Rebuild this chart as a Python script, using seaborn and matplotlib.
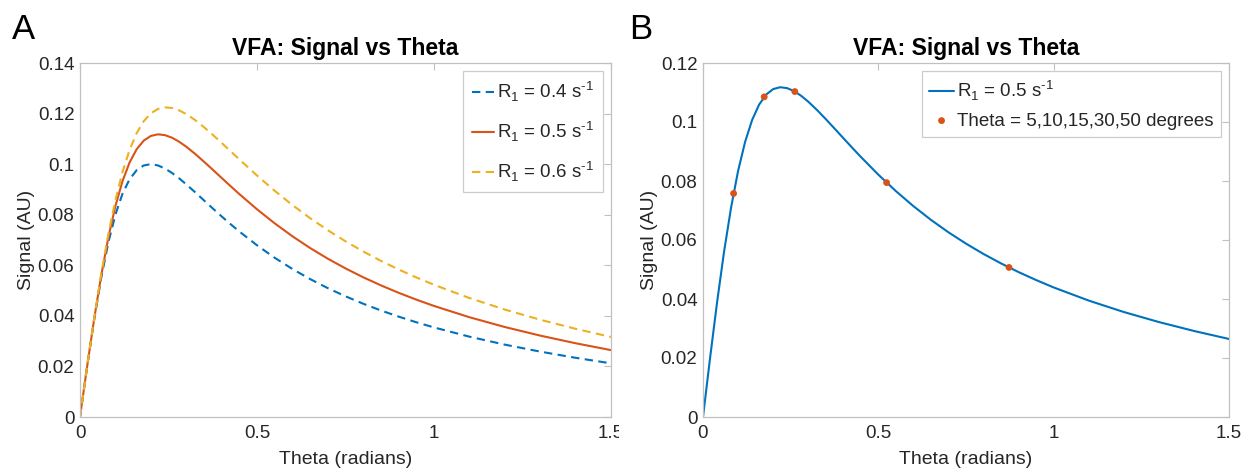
import numpy as np
import pandas as pd
import matplotlib
matplotlib.use("Agg")
import matplotlib.pyplot as plt
from matplotlib.transforms import Bbox
import seaborn as sns

sns.set_theme(style="white")
plt.rcParams['font.family'] = ['Liberation Sans', 'DejaVu Sans']
plt.rcParams['mathtext.fontset'] = 'custom'
plt.rcParams['mathtext.rm'] = 'Liberation Sans'

# ---- data ----
theta = [0.00, 0.02, 0.04, 0.06, 0.08, 0.10, 0.12, 0.14, 0.16, 0.18, 0.20,
         0.22, 0.24, 0.26, 0.28, 0.30, 0.325, 0.35, 0.375, 0.40, 0.425, 0.45,
         0.50, 0.55, 0.60, 0.65, 0.70, 0.75, 0.80, 0.85, 0.90, 0.95,
         1.00, 1.10, 1.20, 1.30, 1.40, 1.50]
signal_r04 = [0.0, 0.01980, 0.03847, 0.05506, 0.06899, 0.08004, 0.08828, 0.09401,
              0.09761, 0.09947, 0.10000, 0.09950, 0.09827, 0.09651, 0.09439,
              0.09203, 0.08891, 0.08570, 0.08249, 0.07935, 0.07630, 0.07337,
              0.06791, 0.06297, 0.05854, 0.05455, 0.05096, 0.04773, 0.04480,
              0.04213, 0.03970, 0.03747,
              0.03542, 0.03177, 0.02862, 0.02586, 0.02341, 0.02122]
signal_r05 = [0.0, 0.01984, 0.03876, 0.05599, 0.07095, 0.08338, 0.09323, 0.10065,
              0.10589, 0.10929, 0.11115, 0.11179, 0.11148, 0.11045, 0.10887,
              0.10691, 0.10408, 0.10100, 0.09780, 0.09456, 0.09134, 0.08818,
              0.08215, 0.07658, 0.07148, 0.06683, 0.06261, 0.05877, 0.05526,
              0.05206, 0.04912, 0.04642,
              0.04392, 0.03946, 0.03559, 0.03219, 0.02917, 0.02645]
signal_r06 = [0.0, 0.01987, 0.03897, 0.05662, 0.07232, 0.08577, 0.09685, 0.10561,
              0.11224, 0.11698, 0.12008, 0.12182, 0.12246, 0.12221, 0.12127,
              0.11981, 0.11744, 0.11465, 0.11161, 0.10841, 0.10515, 0.10189,
              0.09551, 0.08946, 0.08383, 0.07864, 0.07387, 0.06948, 0.06546,
              0.06176, 0.05835, 0.05520,
              0.05228, 0.04705, 0.04249, 0.03846, 0.03488, 0.03165]
sample_deg = [5, 10, 15, 30, 50]
sample_signal = [0.07577, 0.10852, 0.11032, 0.07946, 0.05070]

HY = '\u2010'
labels_a = [r'R$_{\mathregular{1}}$ = 0.4 s$^{\mathregular{' + HY + r'1}}$',
            r'R$_{\mathregular{1}}$ = 0.5 s$^{\mathregular{' + HY + r'1}}$',
            r'R$_{\mathregular{1}}$ = 0.6 s$^{\mathregular{' + HY + r'1}}$']
label_pts = 'Theta = 5,10,15,30,50 degrees'

blue = '#0072BD'
red = '#D95319'
yellow = '#EDB120'
spine_col = '#c0c0c0'
text_col = '#262626'

W, H = 1249, 472
fig = plt.figure(figsize=(W / 100, H / 100), dpi=100)
axA = fig.add_axes([80 / W, 1 - 417 / H, (611 - 80) / W, (417 - 63) / H])
axB = fig.add_axes([703 / W, 1 - 417 / H, (1229 - 703) / W, (417 - 63) / H])

lw = 1.5
dash = (4, 2.6)
sns.lineplot(x=theta, y=signal_r04, ax=axA, color=blue, lw=lw, label=labels_a[0],
             linestyle=(0, dash))
sns.lineplot(x=theta, y=signal_r05, ax=axA, color=red, lw=lw, label=labels_a[1])
sns.lineplot(x=theta, y=signal_r06, ax=axA, color=yellow, lw=lw, label=labels_a[2],
             linestyle=(0, dash))

sns.lineplot(x=theta, y=signal_r05, ax=axB, color=blue, lw=lw, label=labels_a[1])
sns.scatterplot(x=np.deg2rad(sample_deg), y=sample_signal, ax=axB, color=red, s=24,
                edgecolor='none', label=label_pts, zorder=3)

for ax, ymax, yt in [(axA, 0.14, np.arange(0, 0.141, 0.02)),
                     (axB, 0.12, np.arange(0, 0.121, 0.02))]:
    ax.set_xlim(0, 1.5)
    ax.set_ylim(0, ymax)
    ax.set_xticks([0, 0.5, 1, 1.5])
    ax.set_xticklabels(['0', '0.5', '1', '1.5'])
    ax.set_yticks(yt)
    ax.set_yticklabels(['0' if v == 0 else ('%g' % round(v, 2)) for v in yt])
    ax.tick_params(direction='in', length=5, width=0.8, color=spine_col,
                   top=True, right=True, labelsize=13.5, labelcolor=text_col)
    ax.tick_params(axis='x', pad=6)
    ax.tick_params(axis='y', pad=4)
    for s in ax.spines.values():
        s.set_color(spine_col)
        s.set_linewidth(0.9)
    ax.set_xlabel('Theta (radians)', fontsize=14, color=text_col, labelpad=6)
    ax.set_ylabel('Signal (AU)', fontsize=14, color=text_col, labelpad=2)
    ax.set_title('VFA: Signal vs Theta', fontsize=16.5, fontweight='bold',
                 color='black', pad=6)

legA = axA.legend(loc='upper right', fontsize=13.5, frameon=True, fancybox=False,
                  handlelength=1.2, handletextpad=0.15, borderpad=0.45,
                  labelspacing=0.85, borderaxespad=0.45)
legB = axB.legend(loc='upper right', fontsize=13.5, frameon=True, fancybox=False,
                  handlelength=1.3, handletextpad=0.15, borderpad=0.4,
                  labelspacing=0.5, borderaxespad=0.45)
for leg in (legA, legB):
    leg.get_frame().set_edgecolor(spine_col)
    leg.get_frame().set_linewidth(0.9)
    for t in leg.get_texts():
        t.set_color(text_col)

# panel A was cropped on its right edge in the original: clip its last x label
clip = Bbox.from_extents(0, 0, 619, H)
fig.canvas.draw()
lastlab = axA.get_xticklabels()[-1]
lastlab.set_clip_box(clip)
lastlab.set_clip_on(True)

fig.text(12 / W, 1 - 39 / H, 'A', fontsize=25, color='black')
fig.text(629 / W, 1 - 39 / H, 'B', fontsize=25, color='black')

fig.savefig('out.png', dpi=100, facecolor='white')
